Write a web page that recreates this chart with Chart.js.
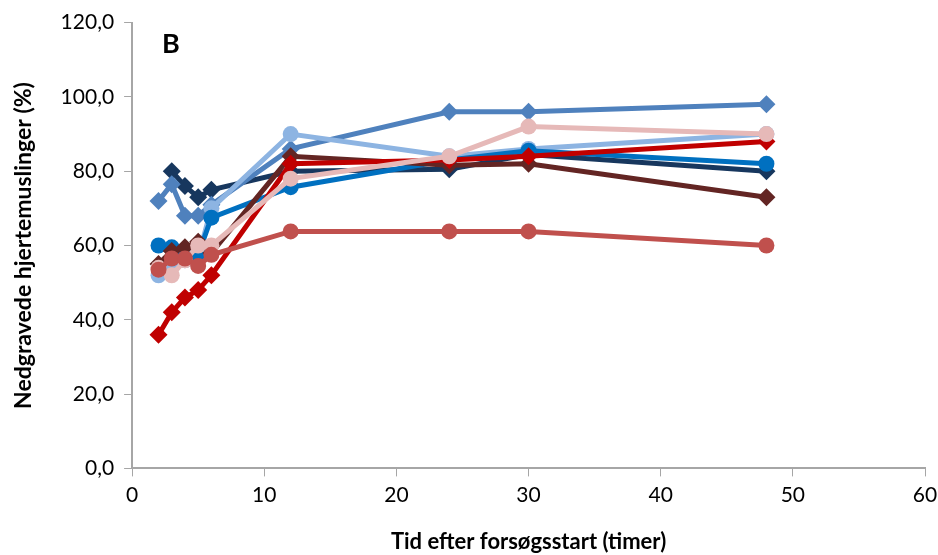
<!DOCTYPE html>
<html>
<head>
<meta charset="utf-8">
<script src="https://cdn.jsdelivr.net/npm/chart.js@4/dist/chart.umd.min.js"></script>
<style>
  html, body { margin: 0; padding: 0; background: #fff; }
  #wrap { width: 938px; height: 555px; }
</style>
</head>
<body>
<div id="wrap"><canvas id="chart"></canvas></div>
<script>
// timer efter forsøgsstart
const hours = [2, 3, 4, 5, 6, 12, 24, 30, 48];

// nedgravede hjertemuslinger (%) pr. serie
const navyVals = [null, 80, 76, 73, 75, 80, 80.5, 84.5, 80];
const steelVals = [72, 76.5, 68, 68, 71, 86, 96, 96, 98];
const lightBlueVals = [52, 55, 56, 57, 70, 90, 84, 86, 90];
const blueVals = [60, 59.5, 58, 57.5, 67.5, 75.7, 83, 85.5, 82];
const darkRedVals = [55, 58.5, 59.5, 61, 58, 84, 81.6, 82, 73];
const redVals = [36, 42, 46, 48, 52, 82, 83, 84, 88];
const pinkVals = [54, 52, 56, 60, 60, 78, 84, 92, 90];
const indianRedVals = [53.5, 56.5, 56.5, 54.5, 57.5, 63.8, 63.8, 63.8, 60];

const yTicks = [0, 20, 40, 60, 80, 100, 120];
const xTicks = [0, 10, 20, 30, 40, 50, 60];

const font = "Lato, 'Open Sans', sans-serif";
const axisGrey = "#A6A6A6";

// rækkefølge: nederst først, øverst sidst
const seriesList = [
  { vals: navyVals, color: "#17375E", shape: "rectRot" },
  { vals: steelVals, color: "#4F81BD", shape: "rectRot" },
  { vals: lightBlueVals, color: "#8DB4E2", shape: "circle" },
  { vals: blueVals, color: "#0070C0", shape: "circle" },
  { vals: darkRedVals, color: "#632523", shape: "rectRot" },
  { vals: redVals, color: "#C00000", shape: "rectRot" },
  { vals: pinkVals, color: "#E6B9B8", shape: "circle" },
  { vals: indianRedVals, color: "#C0504D", shape: "circle" },
];

const datasets = seriesList.map((s, i) => ({
  data: hours.map((h, j) => ({ x: h, y: s.vals[j] })),
  borderColor: s.color,
  backgroundColor: s.color,
  borderWidth: 5,
  pointStyle: s.shape,
  pointRadius: s.shape === "circle" ? 8 : 9,
  pointBorderWidth: 0,
  pointHoverRadius: 9,
  spanGaps: false,
  order: seriesList.length - i, // højere index tegnes øverst
}));

// panel-bogstav "B"
const panelLabel = {
  id: "panelLabel",
  afterDraw(chart) {
    const { ctx, chartArea } = chart;
    ctx.save();
    ctx.fillStyle = "#000";
    ctx.font = "bold 27px " + font;
    ctx.textBaseline = "middle";
    ctx.fillText("B", chartArea.left + 30, chartArea.top + 22);
    ctx.restore();
  },
};

new Chart(document.getElementById("chart"), {
  type: "line",
  data: { datasets },
  plugins: [panelLabel],
  options: {
    responsive: true,
    maintainAspectRatio: false,
    animation: false,
    layout: { padding: { top: 12, right: 0, left: 10, bottom: 0 } },
    plugins: {
      legend: { display: false },
      tooltip: { enabled: false },
    },
    scales: {
      x: {
        type: "linear",
        min: 0,
        max: 60,
        afterBuildTicks: (axis) => {
          axis.ticks = xTicks.map((v) => ({ value: v }));
        },
        afterFit: (axis) => {
          axis.paddingRight = 13; // plads til "60"
        },
        grid: { drawOnChartArea: false, drawTicks: true, tickLength: 8, color: axisGrey },
        border: { color: axisGrey, width: 2 },
        ticks: { color: "#000", font: { family: font, size: 21 }, padding: 6, maxRotation: 0 },
        title: {
          display: true,
          text: "Tid efter forsøgsstart (timer)",
          color: "#000",
          font: { family: font, size: 22, weight: "bold" },
          padding: { top: 15, bottom: 0 },
        },
      },
      y: {
        min: 0,
        max: 120,
        afterBuildTicks: (axis) => {
          axis.ticks = yTicks.map((v) => ({ value: v }));
        },
        grid: { drawOnChartArea: false, drawTicks: true, tickLength: 8, color: axisGrey },
        border: { color: axisGrey, width: 2 },
        ticks: {
          color: "#000",
          font: { family: font, size: 21 },
          padding: 10,
          callback: (v) => v.toFixed(1).replace(".", ","),
        },
        title: {
          display: true,
          text: "Nedgravede hjertemuslinger (%)",
          color: "#000",
          font: { family: font, size: 23, weight: "bold" },
          padding: { top: 0, bottom: 13 },
        },
      },
    },
  },
});
</script>
</body>
</html>
